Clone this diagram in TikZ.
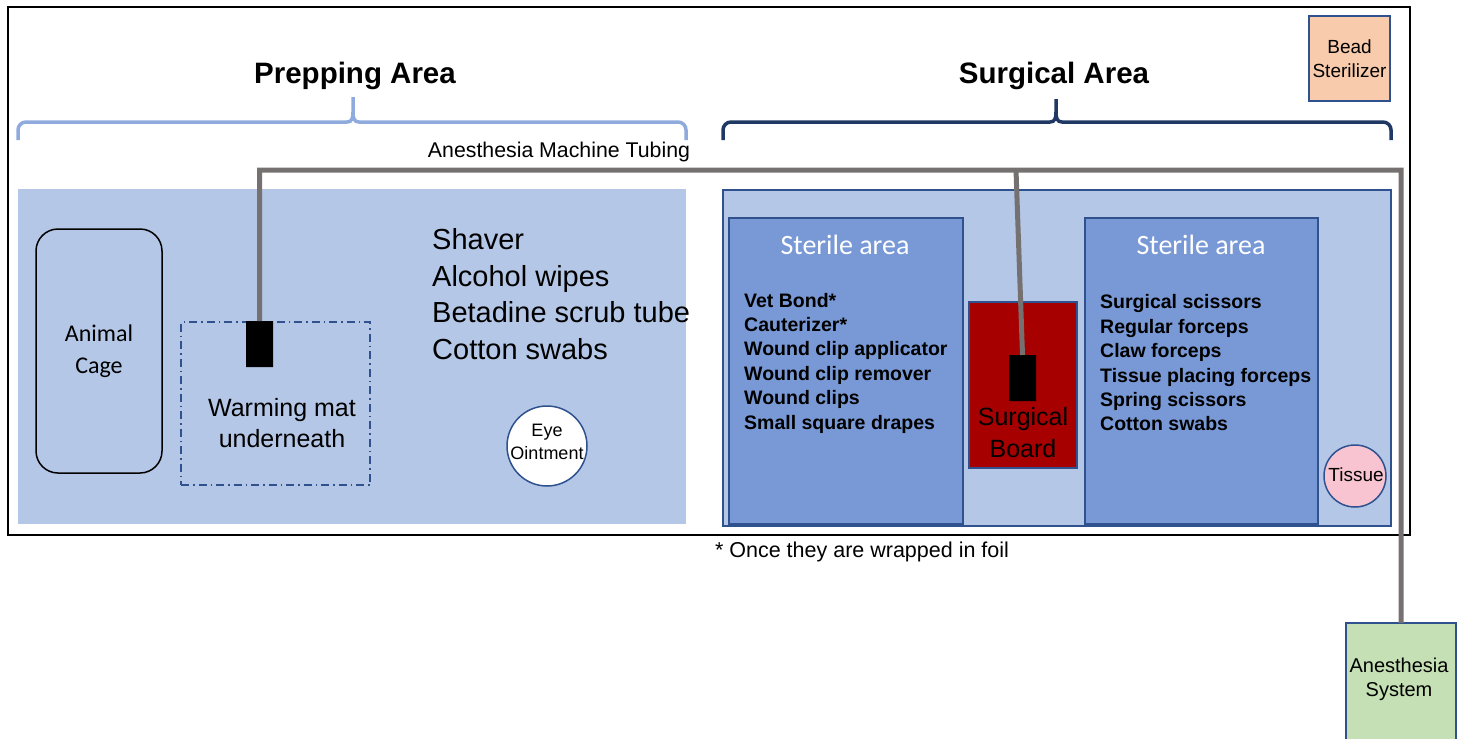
\documentclass[tikz,border=0pt]{standalone}
\usepackage{fontspec}
\setmainfont{Liberation Sans}
\newfontfamily\calfont{Carlito}
\usetikzlibrary{shapes.misc}
\newcommand\myfs[2]{\fontsize{#1bp}{#2bp}\selectfont}
\definecolor{lightfill}{HTML}{B4C7E7}
\definecolor{sterfill}{HTML}{7899D6}
\definecolor{edgeblue}{HTML}{2F528F}
\definecolor{brlight}{HTML}{8FAADC}
\definecolor{brdark}{HTML}{1F3864}
\definecolor{tubegray}{HTML}{767171}
\definecolor{boardred}{HTML}{A60000}
\definecolor{peach}{HTML}{F8CBAD}
\definecolor{mint}{HTML}{C5E0B4}
\definecolor{pinkfill}{HTML}{F8C4D2}
\begin{document}
\begin{tikzpicture}[x=1bp,y=-1bp,
  box/.style={draw=edgeblue, line width=1.5bp, anchor=north west, inner sep=0pt, outer sep=0pt},
  roundthing/.style={circle, draw=edgeblue, line width=1.5bp, inner sep=0pt},
  tube/.style={draw=tubegray, line width=5bp},
  plug/.style={chamfered rectangle, chamfered rectangle corners={north west,north east},
    chamfered rectangle xsep=4.5bp, chamfered rectangle ysep=4.5bp, fill=black,
    minimum width=27bp, minimum height=46bp, inner sep=0pt, outer sep=0pt},
  brace/.style={line width=3.5bp},
  title/.style={font=\bfseries\myfs{29.5}{34}},
  plain/.style={font=\myfs{20}{24}, align=center, inner sep=0pt},
  bigitem/.style={font=\myfs{29}{36.7}, align=left, anchor=west, inner sep=0pt},
  smallitem/.style={font=\bfseries\myfs{19.5}{24.4}, align=left, anchor=west, inner sep=0pt},
  steriletitle/.style={font=\calfont\myfs{28}{32}, text=white, inner sep=0pt}]
\clip (0,0) rectangle (1464,738);
% outer frame
\node[box, draw=black, line width=2bp, minimum width=1402bp, minimum height=528bp] (frame) at (8,7) {};
% titles and braces
\node[title] (ptitle) at (355,76) {Prepping Area};
\node[title] (stitle) at (1054,76) {Surgical Area};
\draw[brace, draw=brlight, rounded corners=8bp] (18,140) -- (18,122) [sharp corners] -- (347,122) .. controls (352,122) and (353,118) .. (353,112) -- (353,97);
\draw[brace, draw=brlight, rounded corners=8bp] (686,140) -- (686,122) [sharp corners] -- (359,122) .. controls (354,122) and (353,118) .. (353,112);
\draw[brace, draw=brdark, rounded corners=8bp] (723,140) -- (723,122) [sharp corners] -- (1050,122) .. controls (1055,122) and (1056,118) .. (1056,112) -- (1056,99);
\draw[brace, draw=brdark, rounded corners=8bp] (1391,140) -- (1391,122) [sharp corners] -- (1062,122) .. controls (1057,122) and (1056,118) .. (1056,112);
% bead sterilizer
\node[box, fill=peach, minimum width=81bp, minimum height=85bp, font=\myfs{19}{24}, align=center] (bead) at (1309,16) {Bead\\Sterilizer};
% tubing label
\node[plain, font=\myfs{21.3}{24}] (tubelabel) at (559,152) {Anesthesia Machine Tubing};
% prepping area
\node[box, draw=none, fill=lightfill, minimum width=668bp, minimum height=335bp] (prep) at (18,189) {};
\node[box, draw=black, rounded corners=22bp, minimum width=126bp, minimum height=244bp, font=\calfont\myfs{24}{32}, align=center] (cage) at (36,229) {Animal\\Cage};
\node[box, dash pattern=on 8bp off 4bp on 1.5bp off 4bp, minimum width=189bp, minimum height=163bp] (mat) at (181,322) {};
\node[plain, font=\myfs{25}{31}] (mattext) at (282,423) {Warming mat\\underneath};
\node[bigitem] (preplist) at (432,294) {Shaver\\Alcohol wipes\\Betadine scrub tube\\Cotton swabs};
\node[roundthing, fill=white, minimum size=80bp] (eye) at (547,446) {};
\node[plain, font=\myfs{18}{23}] (eyetext) at (547,442) {Eye\\Ointment};
% surgical area
\node[box, fill=lightfill, minimum width=668bp, minimum height=336bp] (surg) at (723,190) {};
\node[box, fill=sterfill, minimum width=234bp, minimum height=306bp] (ster1) at (729,218) {};
\node[box, fill=sterfill, minimum width=233bp, minimum height=306bp] (ster2) at (1085,218) {};
\node[steriletitle] (st1) at (845,245) {Sterile area};
\node[steriletitle] (st2) at (1201,245) {Sterile area};
\node[smallitem] (list1) at (744,363) {Vet Bond*\\Cauterizer*\\Wound clip applicator\\Wound clip remover\\Wound clips\\Small square drapes};
\node[smallitem] (list2) at (1100,363) {Surgical scissors\\Regular forceps\\Claw forceps\\Tissue placing forceps\\Spring scissors\\Cotton swabs};
\node[box, fill=boardred, minimum width=108bp, minimum height=166bp] (board) at (969,302) {};
\node[plain, font=\myfs{25}{32}] (boardtext) at (1023,433) {Surgical\\Board};
\node[roundthing, fill=pinkfill, minimum size=62bp] (tissue) at (1355,476) {};
\node[plain, font=\myfs{19}{23}] (tissuetext) at (1356,475) {Tissue};
% footnote
\node[plain, font=\myfs{21.5}{24}] (foot) at (862,552) {* Once they are wrapped in foil};
% anesthesia system
\node[box, fill=mint, minimum width=110bp, minimum height=140bp] (anes) at (1346,623) {};
\node[plain, font=\myfs{20}{24}] (anestext) at (1399,679) {Anesthesia\\System};
% tubing
\coordinate (tl) at (259.5,170);
\coordinate (tm) at (1016,170);
\coordinate (tr) at (1401,170);
\node[plug] (plug1) at (259.5,344) {};
\node[plug] (plug2) at (1022.5,378) {};
\draw[tube] (plug1.north) -- (tl) -- (tr) -- (anes.north);
\draw[tube] (tm) -- (plug2.north);
\end{tikzpicture}
\end{document}
